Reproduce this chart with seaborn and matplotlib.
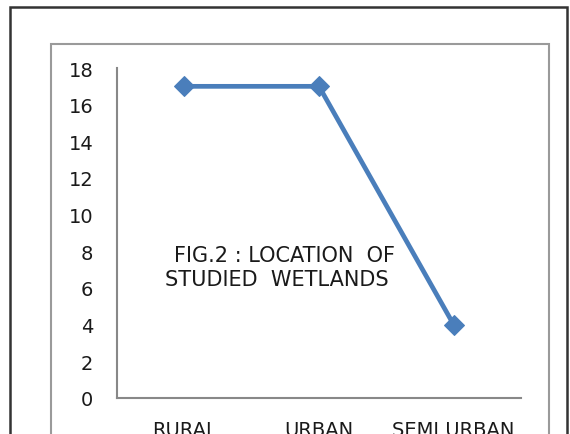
import matplotlib
matplotlib.use("Agg")
import matplotlib.pyplot as plt
import matplotlib.patches as patches
import seaborn as sns
import pandas as pd

# data
locations = ["RURAL", "URBAN", "SEMI URBAN"]
counts = [17, 17, 4]
y_ticks = [0, 2, 4, 6, 8, 10, 12, 14, 16, 18]

sns.set_style("white")
plt.rcParams['font.family'] = ['DejaVu Sans']

df = pd.DataFrame({"location": locations, "count": counts})

fig = plt.figure(figsize=(5.7, 4.35), dpi=100)
ax = fig.add_axes([117 / 570, 1 - 399 / 435, (521 - 117) / 570, (399 - 69) / 435])

sns.lineplot(data=df, x="location", y="count", ax=ax, color="#4A7EBB",
             linewidth=3.4, marker="D", markersize=10, markeredgecolor="#4A7EBB",
             sort=False)

ax.set_xlim(-0.5, 2.5)
ax.set_ylim(0, 18)
ax.set_yticks(y_ticks)
ax.set_xlabel("")
ax.set_ylabel("")

# category labels between the boundary ticks
ax.set_xticks([-0.5, 0.5, 1.5, 2.5])
ax.set_xticklabels([])
ax.set_xticks([0, 1, 2], minor=True)
ax.set_xticklabels(locations, minor=True, fontsize=14, color="#1a1a1a")
ax.tick_params(axis="x", which="minor", length=0, pad=16)
ax.tick_params(axis="x", which="major", length=6, width=1.2, color="#888888", direction="out")
ax.tick_params(axis="y", length=6, width=1.2, color="#888888", direction="out",
               labelsize=14, labelcolor="#1a1a1a", pad=11)

for side in ["top", "right"]:
    ax.spines[side].set_visible(False)
for side in ["left", "bottom"]:
    ax.spines[side].set_color("#888888")
    ax.spines[side].set_linewidth(1.5)

fig.text(174 / 570, 1 - 246 / 435, "FIG.2 : LOCATION  OF",
         fontsize=15, va="top", ha="left", color="#1a1a1a")
fig.text(165 / 570, 1 - 270 / 435, "STUDIED  WETLANDS",
         fontsize=15, va="top", ha="left", color="#1a1a1a")

# chart frames
outer = patches.Rectangle((10 / 570, -0.1), (567 - 10) / 570, 1.1 - 8 / 435,
                          transform=fig.transFigure, fill=False, edgecolor="#333333",
                          linewidth=1.8, clip_on=False)
inner = patches.Rectangle((51 / 570, -0.1), (549 - 51) / 570, 1.1 - 45 / 435,
                          transform=fig.transFigure, fill=False, edgecolor="#9A9A9A",
                          linewidth=1.5, clip_on=False)
fig.patches.extend([outer, inner])

fig.savefig("out.png", dpi=100)
